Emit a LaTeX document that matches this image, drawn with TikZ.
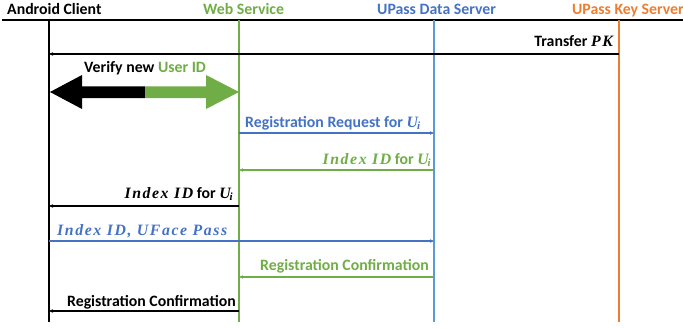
\documentclass[tikz,border=0pt]{standalone}
\usepackage{fontspec}
\setmainfont{Carlito}
\newfontfamily\mth[LetterSpace=10]{Liberation Serif}
\usetikzlibrary{arrows.meta}
\definecolor{cgreen}{RGB}{112,173,71}
\definecolor{cblue}{RGB}{68,114,196}
\definecolor{clblue}{RGB}{91,155,213}
\definecolor{corange}{RGB}{237,125,49}
\newcommand{\mi}[1]{{\mth\bfseries\itshape #1}}
\newcommand{\Ui}{\mi{U\kern-1pt\raisebox{-0.35ex}{\fontsize{11}{11}\selectfont i}}}
\begin{document}
\begin{tikzpicture}[x=1pt,y=-1pt,
  every node/.style={inner sep=0pt,font=\fontsize{15.8}{18}\selectfont\bfseries},
  lifeline/.style={line width=1.4pt},
  msg/.style={line width=1.3pt,-{Stealth[length=4pt,width=3.5pt]}},
  lblw/.style={anchor=base west},
  lble/.style={anchor=base east}]
\useasboundingbox (0,0) rectangle (683,329);
% header
\node[lblw] (hA) at (7,15) {Android Client};
\node[lblw,text=cgreen] (hW) at (203,15) {Web Service};
\node[lblw,text=cblue] (hD) at (377,15) {UPass Data Server};
\node[lble,text=corange] (hK) at (684,15) {UPass Key Server};
\coordinate (hl) at (2,20);
\coordinate (hr) at (683,20);
\draw[line width=1.4pt] (hl) -- (hr);
% lifelines
\coordinate (aT) at (49,20);  \coordinate (aB) at (49,322);
\coordinate (wT) at (239,20); \coordinate (wB) at (239,322);
\coordinate (dT) at (434,20); \coordinate (dB) at (434,322);
\coordinate (kT) at (619,20); \coordinate (kB) at (619,322);
\draw[lifeline] (aT) -- (aB);
\draw[lifeline,cgreen] (wT) -- (wB);
\draw[lifeline,clblue] (dT) -- (dB);
\draw[lifeline,corange] (kT) -- (kB);
% Transfer PK
\coordinate (k1) at (619,54); \coordinate (a1) at (49,54);
\draw[msg] (k1) -- (a1);
\node[lble] (t1) at (613,47) {Transfer \mi{PK}};
% Verify new User ID
\node[lblw] (t2) at (84,73) {Verify new \textcolor{cgreen}{User ID}};
\fill[black] (50,92) -- (82,75) -- (82,86.5) -- (145,86.5) -- (145,98) -- (82,98) -- (82,109) -- cycle;
\fill[cgreen] (145,86.5) -- (206,86.5) -- (206,75) -- (239,92) -- (206,109) -- (206,98) -- (145,98) -- cycle;
% Registration Request
\coordinate (w3) at (239,133); \coordinate (d3) at (434,133);
\draw[msg,cblue] (w3) -- (d3);
\node[lblw,text=cblue] (t3) at (245,127) {Registration Request for \Ui};
% Index ID green
\coordinate (d4) at (434,170); \coordinate (w4) at (239,170);
\draw[msg,cgreen] (d4) -- (w4);
\node[lble,text=cgreen] (t4) at (431,164) {\mi{Index ID} for \Ui};
% Index ID black
\coordinate (w5) at (239,206); \coordinate (a5) at (49,206);
\draw[msg] (w5) -- (a5);
\node[lble] (t5) at (233,198) {\mi{Index ID} for \Ui};
% Index ID, UFace Pass
\coordinate (a6) at (49,241); \coordinate (d6) at (434,241);
\draw[msg,cblue] (a6) -- (d6);
\node[lblw,text=cblue] (t6) at (57,235) {\mi{Index ID, UFace Pass}};
% Registration Confirmation green
\coordinate (d7) at (434,277); \coordinate (w7) at (239,277);
\draw[msg,cgreen] (d7) -- (w7);
\node[lble,text=cgreen] (t7) at (429,270) {Registration Confirmation};
% Registration Confirmation black
\coordinate (w8) at (239,311); \coordinate (a8) at (49,311);
\draw[msg] (w8) -- (a8);
\node[lble] (t8) at (236,306) {Registration Confirmation};
\end{tikzpicture}
\end{document}
